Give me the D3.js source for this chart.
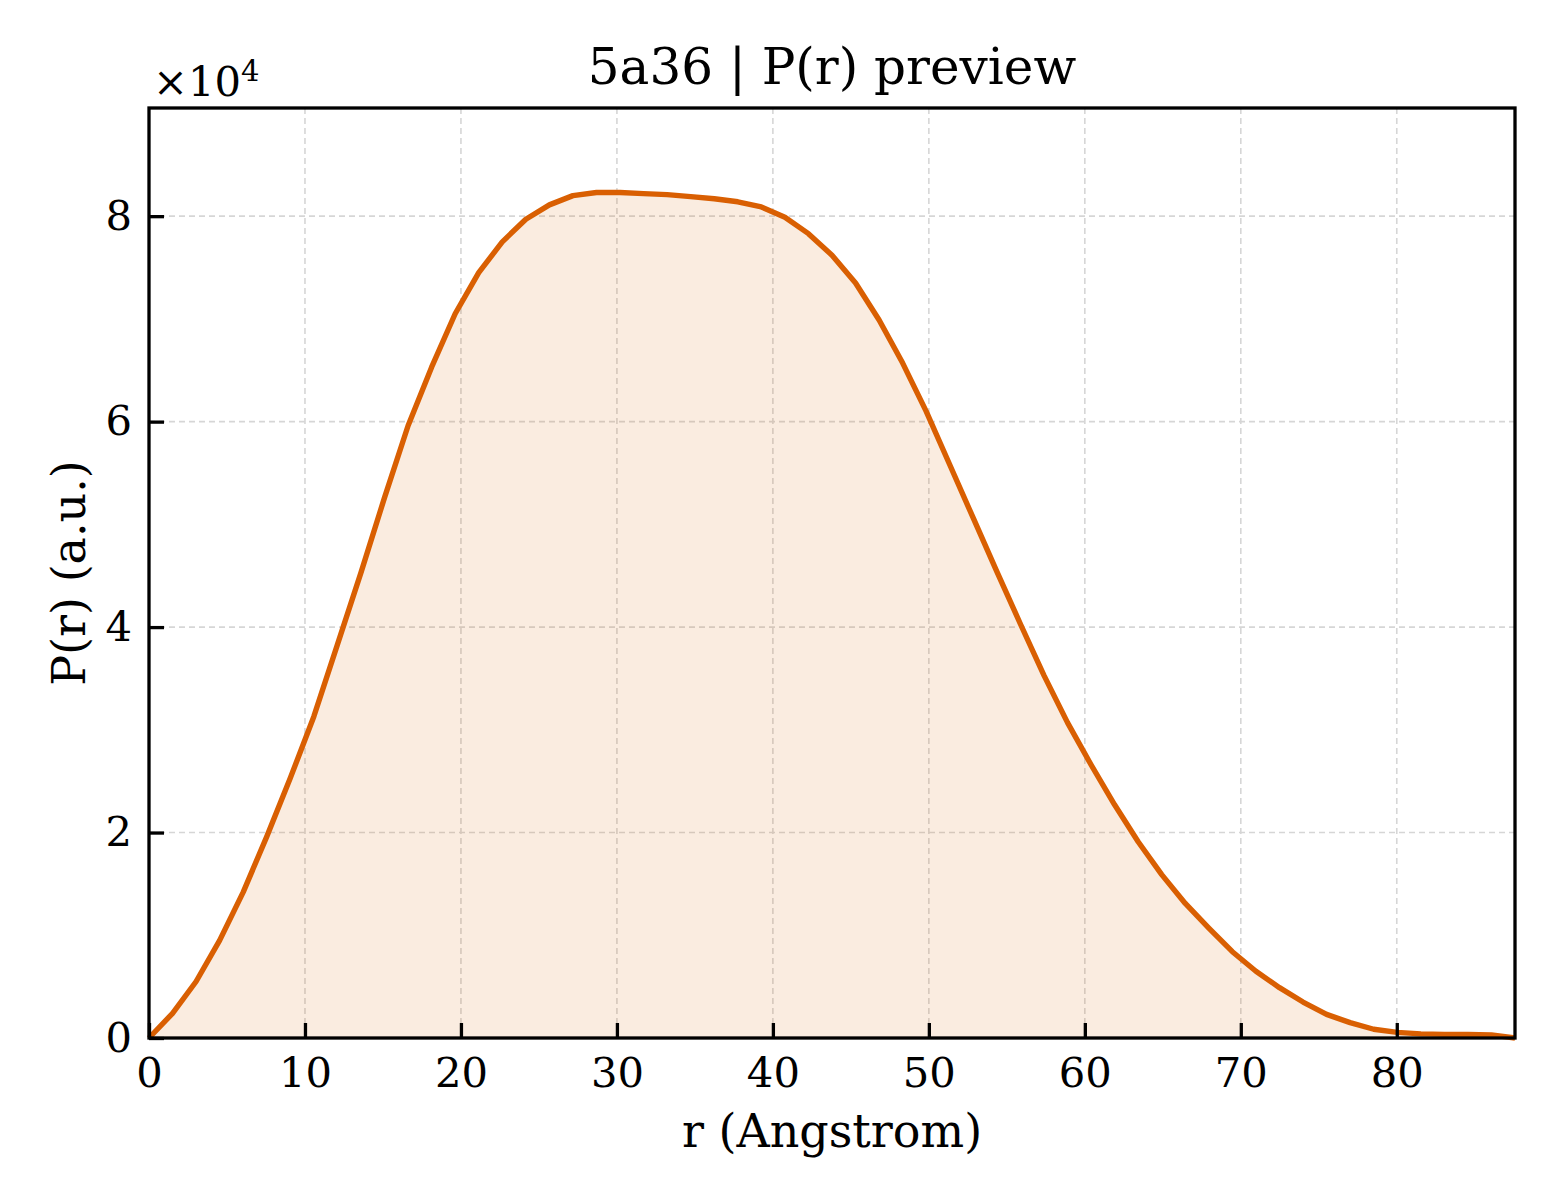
<!DOCTYPE html>
<html>
<head>
<meta charset="utf-8">
<script src="https://cdn.jsdelivr.net/npm/d3@7"></script>
<style>
    body { margin:0; background:white; }
    text { font-family:"DejaVu Serif", serif; fill:black; }
</style>
</head>
<body>
<svg id="pr"></svg>
<script>
//data: r in Angstrom, P(r) in raw units
var r_values = [0.00,1.51,3.02,4.53,6.04,7.55,9.06,10.57,12.08,13.59,
                15.10,16.61,18.12,19.63,21.14,22.65,24.16,25.67,27.18,28.69,
                30.20,31.71,33.22,34.73,36.24,37.75,39.26,40.77,42.28,43.79,
                45.30,46.81,48.32,49.83,51.34,52.85,54.36,55.87,57.38,58.89,
                60.40,61.91,63.42,64.93,66.44,67.95,69.46,70.97,72.48,73.99,
                75.50,77.01,78.52,80.03,81.54,83.05,84.56,86.07,87.58];

var p_values = [0,2400,5500,9500,14200,19600,25300,31300,38300,45300,
                52600,59600,65300,70500,74500,77500,79700,81100,82000,82300,
                82300,82200,82100,81900,81700,81400,80900,79900,78300,76200,
                73500,69900,65700,61000,55800,50600,45400,40300,35300,30700,
                26600,22700,19100,15900,13100,10700,8400,6500,4900,3500,
                2300,1500,850,550,400,350,350,300,0];

var x_ticks = [0,10,20,30,40,50,60,70,80];
var y_ticks = [0,20000,40000,60000,80000];

var title_text = "5a36 | P(r) preview";
var x_label = "r (Angstrom)";
var y_label = "P(r) (a.u.)";

var lineColor = "#d95f02";

var initGraph = function(target)
{
    var screen = {width:1560, height:1200};
    var margins = {top:108, bottom:162, left:149, right:45};
    var graph =
    {
        width:screen.width-margins.left-margins.right,
        height:screen.height-margins.top-margins.bottom
    }

    var svg = d3.select(target)
        .attr("width",screen.width)
        .attr("height",screen.height)

    var points = r_values.map(function(r,i){
        return {r:r, p:p_values[i]};
    })

    var xScale = d3.scaleLinear()
        .domain([0,d3.max(r_values)])
        .range([0,graph.width])

    var yScale = d3.scaleLinear()
        .domain([0,d3.max(p_values)*1.1])
        .range([graph.height,0])

    var g = svg.append("g")
        .attr("transform","translate("+margins.left+","+margins.top+")")

    //grid, dashed and light
    var grid = g.append("g").classed("grid",true)
    grid.selectAll(".vgrid")
        .data(x_ticks.filter(function(t){return t>0;}))
        .enter()
        .append("line")
        .attr("x1",function(t){return xScale(t);})
        .attr("x2",function(t){return xScale(t);})
        .attr("y1",0)
        .attr("y2",graph.height)
    grid.selectAll(".hgrid")
        .data(y_ticks.filter(function(t){return t>0;}))
        .enter()
        .append("line")
        .attr("x1",0)
        .attr("x2",graph.width)
        .attr("y1",function(t){return yScale(t);})
        .attr("y2",function(t){return yScale(t);})
    grid.selectAll("line")
        .attr("stroke","#d6d6d6")
        .attr("stroke-width",1.6)
        .attr("stroke-dasharray","6,4")

    //shaded area under the curve
    var area = d3.area()
        .x(function(d){return xScale(d.r);})
        .y0(yScale(0))
        .y1(function(d){return yScale(d.p);})

    g.append("path")
        .datum(points)
        .attr("d",area)
        .attr("fill",lineColor)
        .attr("fill-opacity",0.12)

    var line = d3.line()
        .x(function(d){return xScale(d.r);})
        .y(function(d){return yScale(d.p);})

    g.append("path")
        .datum(points)
        .attr("d",line)
        .attr("fill","none")
        .attr("stroke",lineColor)
        .attr("stroke-width",5.4)
        .attr("stroke-linejoin","round")

    //axes with inward ticks
    var xAxis = d3.axisBottom(xScale)
        .tickValues(x_ticks)
        .tickSize(-15)
        .tickPadding(19)
        .tickFormat(d3.format("d"))
    var yAxis = d3.axisLeft(yScale)
        .tickValues(y_ticks)
        .tickSize(-15)
        .tickPadding(17)
        .tickFormat(function(v){return v/10000;})

    var xg = g.append("g")
        .attr("transform","translate(0,"+graph.height+")")
        .call(xAxis)
    var yg = g.append("g")
        .call(yAxis)

    xg.selectAll(".domain").remove()
    yg.selectAll(".domain").remove()
    xg.selectAll(".tick line").attr("stroke-width",3.3)
    yg.selectAll(".tick line").attr("stroke-width",3.3)
    xg.selectAll(".tick text")
        .attr("font-size",41.7)
        .attr("font-family","DejaVu Serif")
    yg.selectAll(".tick text")
        .attr("font-size",41.7)
        .attr("font-family","DejaVu Serif")

    //frame
    g.append("rect")
        .attr("x",0)
        .attr("y",0)
        .attr("width",graph.width)
        .attr("height",graph.height)
        .attr("fill","none")
        .attr("stroke","black")
        .attr("stroke-width",3.3)

    //labels
    svg.append("text")
        .text(title_text)
        .attr("x",margins.left+graph.width/2)
        .attr("y",84)
        .attr("text-anchor","middle")
        .attr("font-size",50)

    svg.append("text")
        .text(x_label)
        .attr("x",margins.left+graph.width/2)
        .attr("y",1147)
        .attr("text-anchor","middle")
        .attr("font-size",46)

    svg.append("text")
        .text(y_label)
        .attr("text-anchor","middle")
        .attr("font-size",46)
        .attr("transform","translate(85,"+(margins.top+graph.height/2)+") rotate(-90)")

    //offset text for the y axis
    var offset = svg.append("text")
        .attr("x",153)
        .attr("y",96)
        .attr("font-size",41.7)
    offset.append("tspan").text("\u00d710")
    offset.append("tspan")
        .text("4")
        .attr("font-size",29)
        .attr("dy",-15)
}

initGraph("#pr");
</script>
</body>
</html>
